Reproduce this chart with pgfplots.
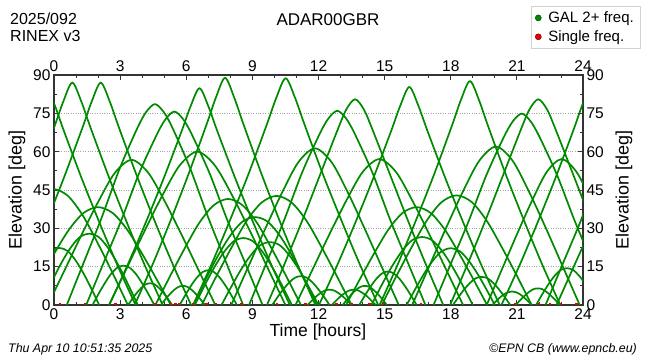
\documentclass[border=0pt]{standalone}
\usepackage{fontspec}
\setmainfont{Liberation Sans}
\usepackage{pgfplots}
\pgfplotsset{compat=1.18}
\definecolor{gal}{RGB}{0,138,0}
\definecolor{sgl}{RGB}{230,0,0}
\pgfplotsset{arc/.style={smooth, color=gal, line width=1.7pt, no markers, forget plot}}
\begin{document}
\begin{tikzpicture}
\useasboundingbox (0,0) rectangle (650pt,360pt);
\begin{axis}[
 at={(54pt,55pt)}, anchor=south west, width=529pt, height=230pt, scale only axis,
 xmin=0, xmax=24, ymin=0, ymax=90,
 xtick={0,3,...,24}, ytick={0,15,...,90},
 minor x tick num=2, minor y tick num=1,
 major tick length=5pt, minor tick length=3pt,
 tick style={black!80, line width=0.8pt},
 axis line style={black!80, line width=1.1pt},
 ymajorgrids, major grid style={dotted, gray!70, line width=0.7pt},
 tick label style={font=\fontsize{15.5}{18}\selectfont},
 /pgf/number format/assume math mode=true,
 legend style={at={(rel axis cs:1.1078,1.3)}, anchor=north east, draw=gray!35, line width=0.5pt, font=\fontsize{15}{17}\selectfont, inner xsep=4pt, inner ysep=3.5pt, row sep=2.5pt, cells={anchor=west}, /tikz/every odd column/.append style={column sep=5pt}},
]
\addlegendimage{only marks, mark=*, mark size=3pt, mark options={fill=gal, draw=black!45!gal}}
\addlegendentry{GAL 2+ freq.}
\addlegendimage{only marks, mark=*, mark size=3pt, mark options={fill=sgl, draw=black!45!sgl}}
\addlegendentry{Single freq.}
% high arcs
\addplot[arc] coordinates {(-3.27,0) (-2.45,15.7) (-1.63,32.6) (-0.81,50.5) (0.01,69.6) (0.42,79.6) (0.83,87) (1.24,79.6) (1.65,69.6) (2.47,50.5) (3.29,32.6) (4.11,15.7) (4.93,0)};
\addplot[arc] coordinates {(-1.98,0) (-1.16,15.7) (-0.34,32.6) (0.48,50.5) (1.30,69.6) (1.71,79.6) (2.12,87) (2.53,79.6) (2.94,69.6) (3.76,50.5) (4.58,32.6) (5.40,15.7) (6.22,0)};
\addplot[arc] coordinates {(0.58,0) (1.38,17.3) (2.18,34.6) (2.98,53.4) (3.78,69.2) (4.18,75.5) (4.58,78.6) (4.98,75.5) (5.38,69.2) (6.18,53.4) (6.98,34.6) (7.78,17.3) (8.58,0)};
\addplot[arc] coordinates {(1.46,0) (2.26,16.7) (3.06,33.3) (3.86,51.5) (4.66,66.6) (5.06,72.7) (5.46,75.7) (5.86,72.7) (6.26,66.6) (7.06,51.5) (7.86,33.3) (8.66,16.7) (9.46,0)};
\addplot[arc] coordinates {(2.50,0) (3.32,15.3) (4.14,31.8) (4.96,49.2) (5.78,67.8) (6.19,77.6) (6.60,84.8) (7.01,77.6) (7.42,67.8) (8.24,49.2) (9.06,31.8) (9.88,15.3) (10.70,0)};
\addplot[arc] coordinates {(3.66,0) (4.48,16.0) (5.30,33.3) (6.12,51.6) (6.94,71.1) (7.35,81.3) (7.76,88.9) (8.17,81.3) (8.58,71.1) (9.40,51.6) (10.22,33.3) (11.04,16.0) (11.86,0)};
\addplot[arc] coordinates {(6.31,0) (7.15,16.0) (7.99,33.3) (8.83,51.4) (9.67,71.0) (10.09,81.2) (10.51,88.7) (10.93,81.2) (11.35,71.0) (12.19,51.4) (13.03,33.3) (13.87,16.0) (14.71,0)};
\addplot[arc] coordinates {(8.85,0) (9.65,16.7) (10.45,33.4) (11.25,51.7) (12.05,66.9) (12.45,73.0) (12.85,76) (13.25,73.0) (13.65,66.9) (14.45,51.7) (15.25,33.4) (16.05,16.7) (16.85,0)};
\addplot[arc] coordinates {(9.66,0) (10.46,16.1) (11.26,33.0) (12.06,50.7) (12.86,68.4) (13.26,76.5) (13.66,80.5) (14.06,76.5) (14.46,68.4) (15.26,50.7) (16.06,33.0) (16.86,16.1) (17.66,0)};
\addplot[arc] coordinates {(12.02,0) (12.84,15.4) (13.66,32.0) (14.48,49.5) (15.30,68.2) (15.71,78.0) (16.12,85.3) (16.53,78.0) (16.94,68.2) (17.76,49.5) (18.58,32.0) (19.40,15.4) (20.22,0)};
\addplot[arc] coordinates {(14.77,0) (15.59,15.8) (16.41,32.9) (17.23,50.8) (18.05,70.1) (18.46,80.2) (18.87,87.6) (19.28,80.2) (19.69,70.1) (20.51,50.8) (21.33,32.9) (22.15,15.8) (22.97,0)};
\addplot[arc] coordinates {(17.22,0) (18.02,16.5) (18.82,33.0) (19.62,50.9) (20.42,65.9) (20.82,71.9) (21.22,74.9) (21.62,71.9) (22.02,65.9) (22.82,50.9) (23.62,33.0) (24.42,16.5) (25.22,0)};
\addplot[arc] coordinates {(17.97,0) (18.77,16.1) (19.57,33.0) (20.37,50.7) (21.17,68.4) (21.57,76.5) (21.97,80.5) (22.37,76.5) (22.77,68.4) (23.57,50.7) (24.37,33.0) (25.17,16.1) (25.97,0)};
\addplot[arc] coordinates {(-2.04,49.9) (-1.22,68.8) (-0.81,78.7) (-0.4,86) (0.01,78.7) (0.42,68.8) (1.24,49.9) (2.06,32.3) (2.88,15.5) (3.7,0)};
\addplot[arc] coordinates {(20.3,0) (21.12,15.5) (21.94,32.3) (22.76,49.9) (23.58,68.8) (23.99,78.7) (24.4,86) (24.81,78.7)};
\addplot[arc] coordinates {(22.3,0) (23.1,16.5) (23.9,33.0) (24.7,51.0) (25.5,66.0)};
\addplot[arc] coordinates {(22.8,0) (23.6,15.4) (24.4,30.8) (25.2,47.6)};
% medium arcs
\addplot[arc] coordinates {(-0.28,0) (0.48,13.6) (1.24,27.3) (2.00,40.3) (2.76,51.7) (3.52,56.8) (4.28,51.7) (5.04,40.3) (5.80,27.3) (6.56,13.6) (7.32,0)};
\addplot[arc] coordinates {(2.5,0) (3.3,14.4) (4.1,28.8) (4.9,42.6) (5.7,54.6) (6.5,60) (7.3,54.6) (8.1,42.6) (8.9,28.8) (9.7,14.4) (10.5,0)};
\addplot[arc] coordinates {(8.04,0) (8.80,14.7) (9.56,29.4) (10.32,43.5) (11.08,55.8) (11.84,61.3) (12.60,55.8) (13.36,43.5) (14.12,29.4) (14.88,14.7) (15.64,0)};
\addplot[arc] coordinates {(10.96,0) (11.72,13.7) (12.48,27.4) (13.24,40.5) (14.00,52.0) (14.76,57.1) (15.52,52.0) (16.28,40.5) (17.04,27.4) (17.80,13.7) (18.56,0)};
\addplot[arc] coordinates {(16.25,0) (17.01,14.9) (17.77,29.8) (18.53,44.0) (19.29,56.4) (20.05,62) (20.81,56.4) (21.57,44.0) (22.33,29.8) (23.09,14.9) (23.85,0)};
\addplot[arc] coordinates {(19.63,0) (20.31,13.7) (20.99,27.4) (21.67,40.5) (22.35,52.0) (23.03,57.1) (23.71,52.0) (24.39,40.5) (25.07,27.4) (25.75,13.7) (26.43,0)};
% low arcs
\addplot[arc] coordinates {(-3.45,0) (-2.77,12.3) (-2.09,24.1) (-1.41,35.0) (-0.73,42.7) (-0.05,45.4) (0.63,42.7) (1.31,35.0) (1.99,24.1) (2.67,12.3) (3.35,0)};
\addplot[arc] coordinates {(-1.3,0) (-0.64,10.3) (0.02,20.3) (0.68,29.5) (1.34,36.0) (2.0,38.3) (2.66,36.0) (3.32,29.5) (3.98,20.3) (4.64,10.3) (5.3,0)};
\addplot[arc] coordinates {(-0.6,0) (-0.16,8.1) (0.28,15.6) (0.72,22.0) (1.16,26.5) (1.6,27.9) (2.04,26.5) (2.48,22.0) (2.92,15.6) (3.36,8.1) (3.8,0)};
\addplot[arc] coordinates {(-1.55,0) (-1.19,6.5) (-0.83,12.5) (-0.47,17.6) (-0.11,21.2) (0.25,22.3) (0.61,21.2) (0.97,17.6) (1.33,12.5) (1.69,6.5) (2.05,0)};
\addplot[arc] coordinates {(1.75,0) (2.03,4.5) (2.31,8.6) (2.59,12.2) (2.87,14.6) (3.15,15.4) (3.43,14.6) (3.71,12.2) (3.99,8.6) (4.27,4.5) (4.55,0)};
\addplot[arc] coordinates {(3.36,0) (3.56,2.5) (3.76,4.8) (3.96,6.7) (4.16,8.1) (4.36,8.5) (4.56,8.1) (4.76,6.7) (4.96,4.8) (5.16,2.5) (5.36,0)};
\addplot[arc] coordinates {(4.85,0) (5.05,2.2) (5.25,4.2) (5.45,5.9) (5.65,7.1) (5.85,7.5) (6.05,7.1) (6.25,5.9) (6.45,4.2) (6.65,2.2) (6.85,0)};
\addplot[arc] coordinates {(5.7,0) (5.96,3.9) (6.22,7.6) (6.48,10.7) (6.74,12.9) (7.0,13.6) (7.26,12.9) (7.52,10.7) (7.78,7.6) (8.04,3.9) (8.3,0)};
\addplot[arc] coordinates {(6.39,0) (6.83,7.6) (7.27,14.7) (7.71,20.7) (8.15,24.9) (8.59,26.2) (9.03,24.9) (9.47,20.7) (9.91,14.7) (10.35,7.6) (10.79,0)};
\addplot[arc] coordinates {(6.32,0) (6.88,10.0) (7.44,19.3) (8.0,27.2) (8.56,32.7) (9.12,34.4) (9.68,32.7) (10.24,27.2) (10.80,19.3) (11.36,10.0) (11.92,0)};
\addplot[arc] coordinates {(7.6,0) (8.04,7.1) (8.48,13.8) (8.92,19.4) (9.36,23.4) (9.8,24.6) (10.24,23.4) (10.68,19.4) (11.12,13.8) (11.56,7.1) (12.0,0)};
\addplot[arc] coordinates {(4.6,0) (5.26,11.2) (5.92,22.0) (6.58,32.0) (7.24,39.0) (7.9,41.5) (8.56,39.0) (9.22,32.0) (9.88,22.0) (10.54,11.2) (11.2,0)};
\addplot[arc] coordinates {(6.7,0) (7.38,11.5) (8.06,22.6) (8.74,32.9) (9.42,40.1) (10.1,42.7) (10.78,40.1) (11.46,32.9) (12.14,22.6) (12.82,11.5) (13.5,0)};
\addplot[arc] coordinates {(9.9,0) (10.16,3.3) (10.42,6.3) (10.68,8.9) (10.94,10.7) (11.2,11.3) (11.46,10.7) (11.72,8.9) (11.98,6.3) (12.24,3.3) (12.5,0)};
\addplot[arc] coordinates {(11.5,0) (11.7,1.7) (11.9,3.4) (12.1,4.7) (12.3,5.7) (12.5,6.0) (12.7,5.7) (12.9,4.7) (13.1,3.4) (13.3,1.7) (13.5,0)};
\addplot[arc] coordinates {(12.6,0) (12.8,1.7) (13.0,3.4) (13.2,4.7) (13.4,5.7) (13.6,6.0) (13.8,5.7) (14.0,4.7) (14.2,3.4) (14.4,1.7) (14.6,0)};
\addplot[arc] coordinates {(13.1,0) (13.3,2.2) (13.5,4.2) (13.7,5.9) (13.9,7.1) (14.1,7.5) (14.3,7.1) (14.5,5.9) (14.7,4.2) (14.9,2.2) (15.1,0)};
\addplot[arc] coordinates {(13.85,0) (14.11,3.8) (14.37,7.3) (14.63,10.3) (14.89,12.4) (15.15,13.1) (15.41,12.4) (15.67,10.3) (15.93,7.3) (16.19,3.8) (16.45,0)};
\addplot[arc] coordinates {(13.25,0) (13.89,10.3) (14.53,20.3) (15.17,29.5) (15.81,36.0) (16.45,38.3) (17.09,36.0) (17.73,29.5) (18.37,20.3) (19.01,10.3) (19.65,0)};
\addplot[arc] coordinates {(14.4,0) (14.86,7.7) (15.32,14.9) (15.78,21.0) (16.24,25.3) (16.7,26.6) (17.16,25.3) (17.62,21.0) (18.08,14.9) (18.54,7.7) (19.0,0)};
\addplot[arc] coordinates {(14.87,0) (15.55,11.6) (16.23,22.7) (16.91,33.0) (17.59,40.3) (18.27,42.9) (18.95,40.3) (19.63,33.0) (20.31,22.7) (20.99,11.6) (21.67,0)};
\addplot[arc] coordinates {(16.0,0) (16.4,6.4) (16.8,12.4) (17.2,17.5) (17.6,21.1) (18.0,22.2) (18.4,21.1) (18.8,17.5) (19.2,12.4) (19.6,6.4) (20.0,0)};
\addplot[arc] coordinates {(18.1,0) (18.36,3.2) (18.62,6.2) (18.88,8.7) (19.14,10.5) (19.4,11.0) (19.66,10.5) (19.92,8.7) (20.18,6.2) (20.44,3.2) (20.7,0)};
\addplot[arc] coordinates {(19.88,0) (20.06,1.5) (20.24,3.0) (20.42,4.2) (20.6,5.0) (20.78,5.3) (20.96,5.0) (21.14,4.2) (21.32,3.0) (21.5,1.5) (21.68,0)};
\addplot[arc] coordinates {(20.95,0) (21.15,1.9) (21.35,3.6) (21.55,5.1) (21.75,6.2) (21.95,6.5) (22.15,6.2) (22.35,5.1) (22.55,3.6) (22.75,1.9) (22.95,0)};
\addplot[arc] coordinates {(21.87,0) (22.15,4.2) (22.43,8.1) (22.71,11.4) (22.99,13.7) (23.27,14.4) (23.55,13.7) (23.83,11.4) (24.11,8.1) (24.39,4.2) (24.67,0)};
% single-frequency points
\addplot[only marks, mark=square*, mark size=0.7pt, color=sgl, forget plot] coordinates {(0.27,0.6) (1.4,0.6) (2.77,0.6) (4.6,0.6) (5.3,0.6) (5.5,0.6) (5.67,0.6) (6.3,0.6) (6.9,0.6) (7.33,0.6) (8.5,0.6) (10.1,0.6) (11.4,0.6) (12.8,0.6) (13.5,0.6) (14.3,0.6) (14.9,0.6) (16.64,0.6) (20.9,0.6) (22.0,0.6) (22.5,0.6) (23.0,0.6) (23.7,0.6)};
\end{axis}
\begin{axis}[
 at={(54pt,55pt)}, anchor=south west, width=529pt, height=230pt, scale only axis,
 xmin=0, xmax=24, ymin=0, ymax=90,
 xtick={0,3,...,24}, ytick={0,15,...,90},
 axis line style={draw=none}, major tick length=0pt,
 xticklabel pos=right, yticklabel pos=right,
 tick label style={font=\fontsize{15.5}{18}\selectfont},
 /pgf/number format/assume math mode=true,
]
\end{axis}
\node[anchor=base west, inner sep=0pt, font=\fontsize{16}{19}\selectfont] at (10pt,336pt) {2025/092};
\node[anchor=base west, inner sep=0pt, font=\fontsize{16}{19}\selectfont] at (10pt,319pt) {RINEX v3};
\node[anchor=base, inner sep=0pt, font=\fontsize{17}{20}\selectfont] at (328pt,335pt) {ADAR00GBR};
\node[anchor=base, inner sep=0pt, font=\fontsize{17.5}{21}\selectfont] at (318pt,24pt) {Time [hours]};
\node[rotate=90, inner sep=0pt, font=\fontsize{18}{21}\selectfont] at (17pt,170pt) {Elevation [deg]};
\node[rotate=90, inner sep=0pt, font=\fontsize{18}{21}\selectfont] at (624pt,170pt) {Elevation [deg]};
\node[anchor=base west, inner sep=0pt, font=\itshape\fontsize{12.4}{14}\selectfont] at (8pt,8pt) {Thu Apr 10 10:51:35 2025};
\node[anchor=base east, inner sep=0pt, font=\itshape\fontsize{12.4}{14}\selectfont] at (637pt,8pt) {\textcopyright EPN CB (www.epncb.eu)};
\end{tikzpicture}
\end{document}
